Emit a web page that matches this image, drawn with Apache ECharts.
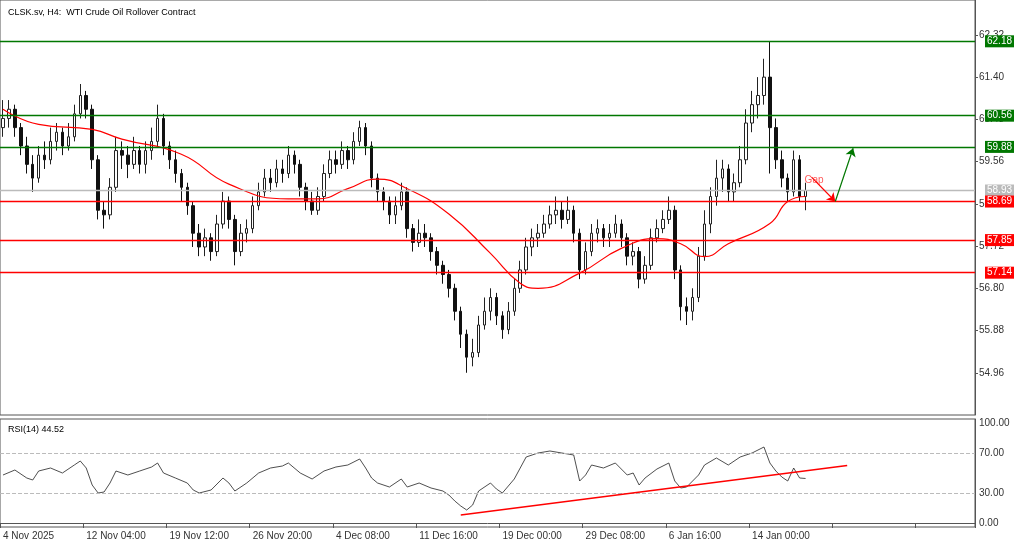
<!DOCTYPE html><html><head><meta charset="utf-8"><script src="https://cdn.jsdelivr.net/npm/echarts@6/dist/echarts.min.js"></script>
<style>html,body{margin:0;background:#fff}#c{width:1024px;height:546px}</style></head><body><div id="c"></div><script>
const xLabels=['4 Nov 2025','12 Nov 04:00','19 Nov 12:00','26 Nov 20:00','4 Dec 08:00','11 Dec 16:00','19 Dec 00:00','29 Dec 08:00','6 Jan 16:00','14 Jan 00:00'];
// [open, close, low, high]
const candles=[
[60.3,60.5,60.1,60.9],[60.5,60.7,60.3,60.9],[60.7,60.3,60.1,60.8],[60.3,59.9,59.7,60.4],[59.9,59.5,59.3,60.1],[59.5,59.2,58.9,59.7],[59.2,59.7,59.1,59.9],[59.7,59.6,59.4,60.0],[59.6,60.0,59.5,60.3],[60.0,60.2,59.8,60.4],
[60.2,59.9,59.7,60.3],[59.9,60.1,59.8,60.4],[60.1,60.6,60.0,60.8],[60.6,61.0,60.5,61.25],[61.0,60.7,60.5,61.1],[60.7,59.6,59.4,60.8],[59.6,58.5,58.3,59.7],[58.5,58.4,58.1,58.7],[58.4,59.0,58.3,59.2],[59.0,59.8,58.9,60.1],
[59.8,59.7,59.4,60.0],[59.7,59.5,59.2,59.9],[59.5,59.8,59.4,60.1],[59.8,59.5,59.3,59.9],[59.5,59.8,59.3,60.0],[59.8,60.0,59.6,60.3],[60.0,60.5,59.9,60.8],[60.5,59.9,59.7,60.6],[59.9,59.6,59.4,60.0],[59.6,59.3,59.1,59.8],
[59.3,59.0,58.7,59.4],[59.0,58.6,58.4,59.1],[58.6,58.0,57.7,58.7],[58.0,57.7,57.5,58.2],[57.7,57.9,57.5,58.1],[57.9,57.6,57.4,58.0],[57.6,58.2,57.5,58.4],[58.2,58.7,58.1,58.9],[58.7,58.3,58.1,58.8],[58.3,57.6,57.3,58.4],
[57.6,58.0,57.5,58.2],[58.0,58.1,57.8,58.3],[58.1,58.6,58.0,58.8],[58.6,58.9,58.5,59.1],[58.9,59.2,58.8,59.4],[59.2,59.1,58.9,59.4],[59.1,59.4,59.0,59.6],[59.4,59.3,59.1,59.6],[59.3,59.7,59.2,59.9],[59.7,59.5,59.3,59.8],
[59.5,59.0,58.8,59.6],[59.0,58.7,58.5,59.1],[58.7,58.5,58.4,58.9],[58.5,58.8,58.4,59.0],[58.8,59.3,58.7,59.5],[59.3,59.6,59.2,59.8],[59.6,59.5,59.3,59.8],[59.5,59.8,59.4,60.0],[59.8,59.6,59.4,59.9],[59.6,60.0,59.5,60.2],
[60.0,60.3,59.9,60.45],[60.3,59.9,59.7,60.4],[59.9,59.2,59.0,60.0],[59.2,58.9,58.7,59.3],[58.9,58.7,58.5,59.0],[58.7,58.4,58.2,58.8],[58.4,58.6,58.2,58.8],[58.6,58.9,58.5,59.1],[58.9,58.1,57.9,59.0],[58.1,57.8,57.6,58.2],
[57.8,58.0,57.7,58.3],[58.0,57.9,57.7,58.2],[57.9,57.6,57.4,58.0],[57.6,57.3,57.1,57.7],[57.3,57.1,56.9,57.4],[57.1,56.8,56.6,57.2],[56.8,56.3,56.1,56.9],[56.3,55.8,55.5,56.4],[55.8,55.3,54.96,55.9],[55.3,55.4,55.1,55.7],
[55.4,56.0,55.3,56.2],[56.0,56.3,55.9,56.6],[56.3,56.6,56.1,56.8],[56.6,56.2,56.0,56.7],[56.2,55.9,55.7,56.3],[55.9,56.3,55.8,56.5],[56.3,56.8,56.2,57.0],[56.8,57.2,56.7,57.4],[57.2,57.7,57.1,57.9],[57.7,57.9,57.5,58.1],
[57.9,58.0,57.7,58.2],[58.0,58.2,57.9,58.4],[58.2,58.4,58.1,58.6],[58.4,58.5,58.2,58.8],[58.5,58.3,58.1,58.7],[58.3,58.5,58.2,58.8],[58.5,58.0,57.8,58.6],[58.0,57.2,57.0,58.1],[57.2,57.6,57.1,57.8],[57.6,58.0,57.5,58.2],
[58.0,58.1,57.8,58.3],[58.1,57.9,57.7,58.2],[57.9,58.0,57.7,58.2],[58.0,58.2,57.9,58.4],[58.2,57.9,57.7,58.3],[57.9,57.5,57.3,58.0],[57.5,57.6,57.3,57.8],[57.6,57.0,56.8,57.7],[57.0,57.3,56.9,57.5],[57.3,57.9,57.2,58.1],
[57.9,58.1,57.8,58.3],[58.1,58.3,58.0,58.5],[58.3,58.5,58.2,58.8],[58.5,57.2,57.0,58.6],[57.2,56.4,56.1,57.3],[56.4,56.3,56.0,56.6],[56.3,56.6,56.1,56.8],[56.6,57.5,56.5,57.7],[57.5,58.2,57.4,58.5],[58.2,58.8,58.0,59.0],
[58.8,59.2,58.6,59.6],[59.2,59.4,58.9,59.6],[59.4,58.9,58.7,59.5],[58.9,59.1,58.7,59.3],[59.1,59.6,59.0,59.9],[59.6,60.4,59.5,60.7],[60.4,60.8,60.2,61.1],[60.8,61.0,60.5,61.4],[61.0,61.4,60.8,61.8],[61.4,60.3,59.3,62.18],
[60.3,59.6,59.4,60.5],[59.6,59.2,59.0,59.8],[59.2,58.9,58.7,59.3],[58.9,59.6,58.8,59.8],[59.6,58.8,58.7,59.7],[58.8,58.93,58.5,59.1]
];
const ma50=[[0,60.70],[6,60.37],[15,60.26],[20,60.05],[30,59.72],[38,59.07],[48,58.75],[53,58.75],[58,58.97],[63,59.18],[68,58.97],[75,58.42],[82,57.56],[87,56.91],[90,56.80],[97,57.13],[104,57.67],[110,57.88],[114,57.77],[118,57.49],[122,57.77],[129,58.21],[132,58.69],[135,58.80]];
const rsi=[[0,48],[2,53],[4,45],[5,43],[6,52],[8,55],[10,50],[12,58],[13,62],[14,55],[15,38],[16,30],[17,31],[18,40],[19,52],[21,48],[23,52],[25,56],[26,60],[27,50],[29,45],[31,40],[32,33],[33,30],[35,33],[37,45],[38,40],[39,32],[41,40],[43,50],[45,55],[47,57],[48,60],[50,50],[52,44],[54,52],[56,56],[58,58],[60,64],[61,55],[62,45],[63,40],[65,36],[67,44],[68,36],[70,40],[72,35],[74,32],[75,28],[76,22],[77,17],[78,13],[79,18],[80,32],[82,40],[83,34],[84,30],[86,44],[87,55],[88,66],[90,70],[92,72],[94,70],[96,68],[97,42],[98,48],[99,58],[101,55],[103,60],[105,48],[106,50],[107,38],[108,45],[110,54],[112,60],[113,42],[114,35],[115,36],[117,48],[118,58],[120,65],[122,58],[124,66],[126,70],[128,76],[129,60],[130,52],[131,46],[132,42],[133,55],[134,45],[135,44.52]];
const levels=[{v:62.18,c:'#007700'},{v:60.56,c:'#007700'},{v:59.88,c:'#007700'},{v:58.93,c:'#bbbbbb'},{v:58.69,c:'#ff0000'},{v:57.85,c:'#ff0000'},{v:57.14,c:'#ff0000'}];
const N=164; const cats=[];for(let i=0;i<N;i++)cats.push(i);
const ch=echarts.init(document.getElementById('c'));
const lab={fontSize:10,color:'#333',fontFamily:'Liberation Sans'};
ch.setOption({animation:false,
title:[{text:'CLSK.sv, H4:  WTI Crude Oil Rollover Contract',left:3,top:3,textStyle:{fontSize:9,fontWeight:'normal',color:'#000',fontFamily:'Liberation Sans'}},
{text:'RSI(14) 44.52',left:3,top:420,textStyle:{fontSize:9,fontWeight:'normal',color:'#000',fontFamily:'Liberation Sans'}}],
grid:[{left:0,right:49,top:0,height:415,show:true,borderColor:'#555'},{left:0,right:49,top:419,height:108,show:true,borderColor:'#555'}],
xAxis:[{type:'category',data:cats,gridIndex:0,axisLabel:{show:false},axisTick:{show:false},axisLine:{show:false}},
{type:'category',data:cats,gridIndex:1,axisLine:{lineStyle:{color:'#555'}},axisTick:{show:true,interval:(i)=>i%14===0,lineStyle:{color:'#555'}},
axisLabel:{...lab,interval:(i)=>i%14===0,formatter:(v,i)=>xLabels[i/14]||'',align:'left',margin:4}}],
yAxis:[{type:'value',gridIndex:0,position:'right',min:54.04,max:63.08,interval:0.92,splitLine:{show:false},axisLine:{show:true,lineStyle:{color:'#555'}},axisTick:{show:true,length:3},
axisLabel:{...lab,showMinLabel:false,showMaxLabel:false,formatter:v=>v.toFixed(2),margin:4}},
{type:'value',gridIndex:1,position:'right',min:-4,max:104,axisLine:{show:true,lineStyle:{color:'#555'}},
axisLabel:{...lab,customValues:[0,30,70,100],formatter:v=>v.toFixed(2),margin:4},axisTick:{customValues:[0,30,70,100],length:3},splitLine:{show:false}}],
series:[
{type:'candlestick',xAxisIndex:0,yAxisIndex:0,data:candles,barWidth:3,itemStyle:{color:'#ffffff',color0:'#111',borderColor:'#222',borderColor0:'#111',borderWidth:1},
markLine:{symbol:'none',silent:true,data:levels.map(l=>({yAxis:l.v,lineStyle:{color:l.c,type:'solid',width:1.3},label:{position:'end',formatter:l.v.toFixed(2),color:'#fff',backgroundColor:l.c,padding:[1,2],fontSize:10,distance:10}}))}},
{type:'line',xAxisIndex:0,yAxisIndex:0,data:ma50,smooth:true,symbol:'none',lineStyle:{color:'#ff0000',width:1.2},
markLine:{symbol:['none','arrow'],symbolSize:8,silent:true,label:{show:false},data:[
[{coord:[136,59.22],lineStyle:{color:'#ff0000',width:1.2,type:'solid'}},{coord:[139.6,58.69]}],
[{coord:[139.8,58.69],lineStyle:{color:'#007700',width:1.2,type:'solid'}},{coord:[142.8,59.85]}]]}},
{type:'scatter',xAxisIndex:0,yAxisIndex:0,data:[[134.2,59.15]],symbolSize:0,label:{show:true,formatter:'Gap',color:'#ff3333',fontSize:10,position:'right'},silent:true},
{type:'line',xAxisIndex:1,yAxisIndex:1,data:rsi,symbol:'none',lineStyle:{color:'#222',width:0.8},
markLine:{symbol:'none',silent:true,label:{show:false},data:[
{yAxis:70,lineStyle:{color:'#bbb',type:'dashed',width:1}},{yAxis:30,lineStyle:{color:'#bbb',type:'dashed',width:1}},
[{coord:[77.3,8],lineStyle:{color:'#ff0000',width:1.5,type:'solid'}},{coord:[141.5,57.6]}]]}}
]});
</script></body></html>
